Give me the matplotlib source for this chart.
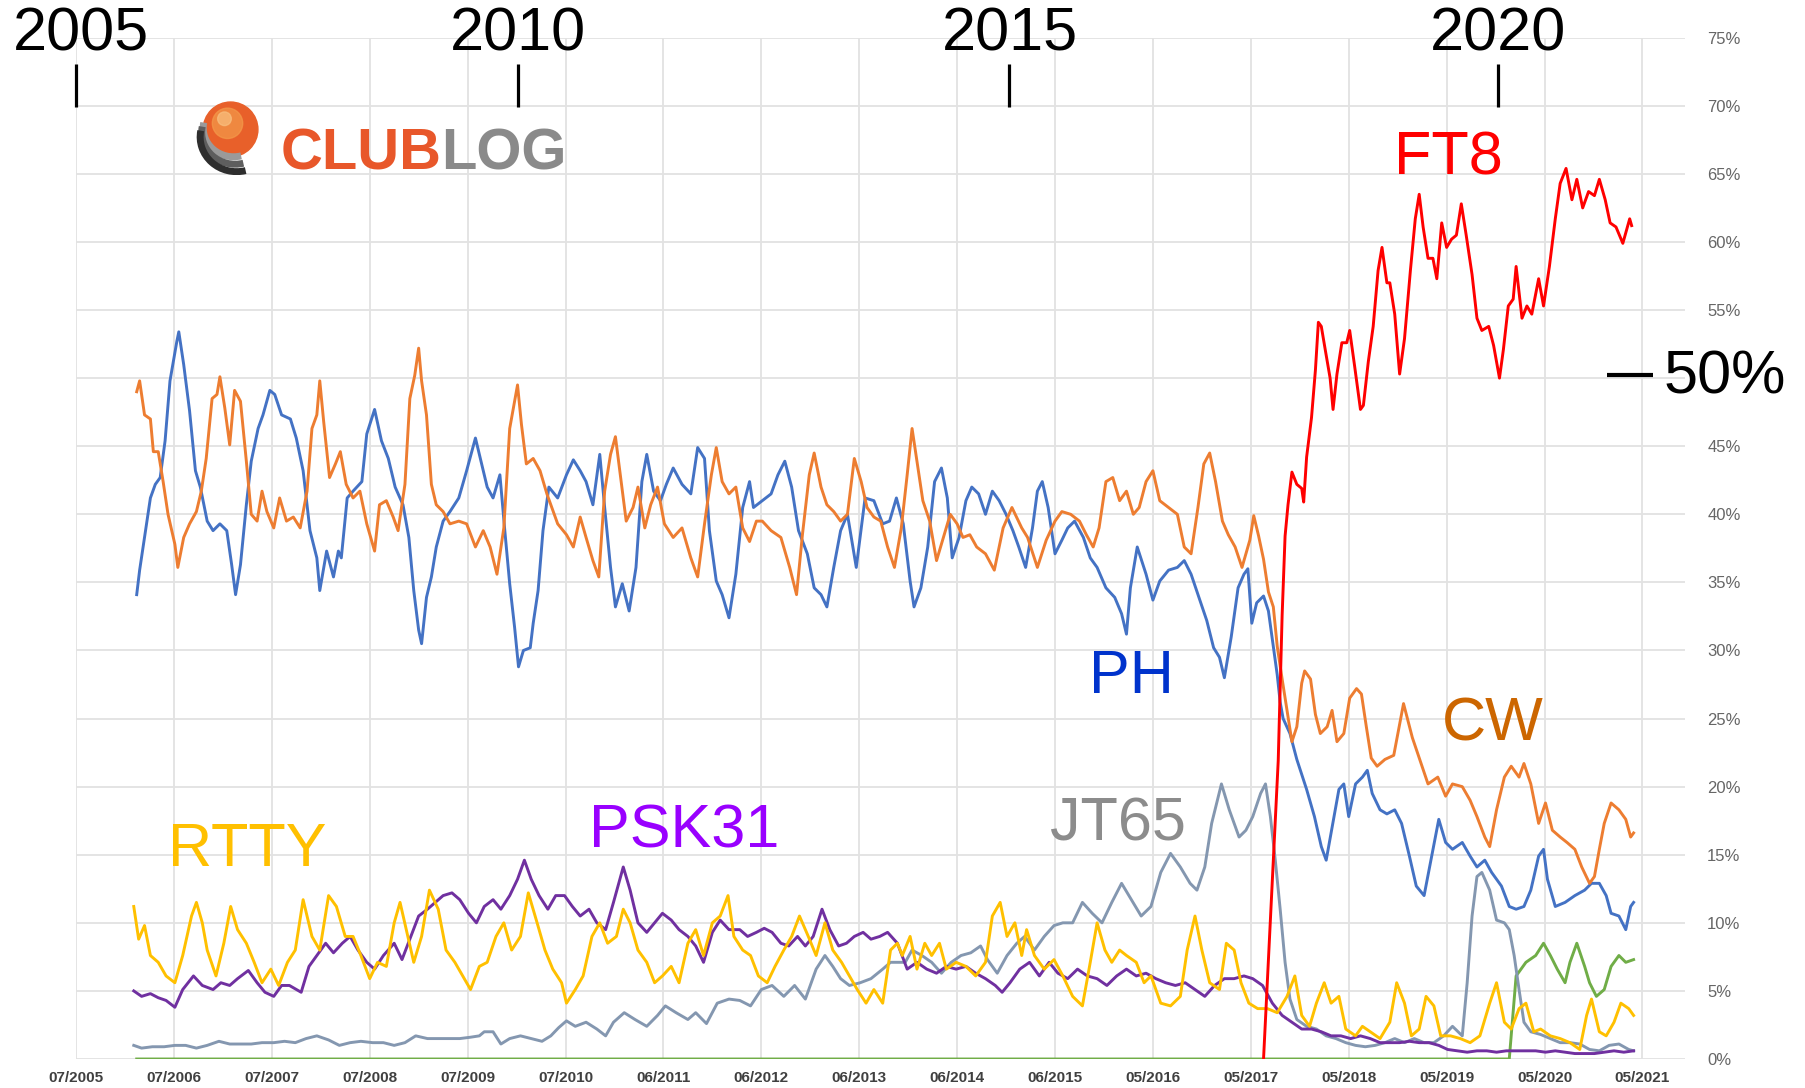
import numpy as np
import matplotlib
matplotlib.use("Agg")
import matplotlib.pyplot as plt
from matplotlib import font_manager as fm
from matplotlib.patches import Circle, Arc

# ---------------- data (x in 360-day periods since 07/2005, y in %) ----------------
x_labels = ["07/2005", "07/2006", "07/2007", "07/2008", "07/2009", "07/2010", "06/2011",
            "06/2012", "06/2013", "06/2014", "06/2015", "05/2016", "05/2017", "05/2018",
            "05/2019", "05/2020", "05/2021"]
y_ticks = [0, 5, 10, 15, 20, 25, 30, 35, 40, 45, 50, 55, 60, 65, 70, 75]

ph_t = [0.62,0.65,0.71,0.76,0.81,0.86,0.91,0.96,1.03,1.05,
        1.10,1.16,1.22,1.27,1.34,1.40,1.47,1.54,1.59,1.63,
        1.68,1.74,1.79,1.86,1.91,1.98,2.03,2.10,2.19,2.25,
        2.32,2.39,2.46,2.49,2.56,2.63,2.68,2.71,2.77,2.83,
        2.92,2.97,3.05,3.12,3.19,3.26,3.34,3.40,3.45,3.50,
        3.53,3.58,3.63,3.68,3.75,3.82,3.91,3.99,4.08,4.13,
        4.20,4.26,4.33,4.38,4.43,4.48,4.52,4.57,4.64,4.67,
        4.72,4.77,4.83,4.92,5.01,5.08,5.15,5.21,5.28,5.35,
        5.40,5.46,5.51,5.58,5.65,5.72,5.78,5.83,5.90,5.97,
        6.03,6.10,6.19,6.28,6.35,6.42,6.47,6.54,6.60,6.67,
        6.74,6.81,6.88,6.92,7.01,7.10,7.17,7.24,7.31,7.38,
        7.47,7.54,7.61,7.67,7.74,7.81,7.88,7.97,8.06,8.15,
        8.24,8.31,8.38,8.45,8.52,8.56,8.63,8.70,8.77,8.84,
        8.90,8.95,9.02,9.09,9.15,9.22,9.29,9.36,9.43,9.50,
        9.57,9.63,9.70,9.77,9.82,9.87,9.93,10.00,10.07,10.13,
        10.20,10.29,10.36,10.43,10.52,10.61,10.68,10.73,10.77,10.84,
        10.93,11.00,11.07,11.16,11.25,11.32,11.39,11.48,11.55,11.62,
        11.68,11.73,11.80,11.87,11.93,11.97,12.01,12.06,12.13,12.18,
        12.23,12.27,12.30,12.33,12.40,12.47,12.57,12.65,12.72,12.77,
        12.82,12.90,12.95,13.00,13.07,13.14,13.19,13.24,13.32,13.39,
        13.47,13.54,13.62,13.69,13.77,13.84,13.92,13.99,14.06,14.16,
        14.24,14.31,14.39,14.46,14.56,14.64,14.71,14.79,14.86,14.94,
        14.99,15.03,15.11,15.21,15.31,15.41,15.48,15.56,15.63,15.68,
        15.76,15.83,15.88,15.91]
ph_v = [34.1,35.9,38.8,41.2,42.2,42.7,45.4,49.8,52.7,53.4,
        51.0,47.6,43.2,42.0,39.5,38.8,39.3,38.8,36.3,34.1,
        36.3,40.7,43.9,46.3,47.3,49.1,48.8,47.3,47.0,45.6,
        43.2,38.8,36.8,34.4,37.3,35.4,37.3,36.8,41.2,41.7,
        42.4,45.9,47.7,45.4,44.1,42.0,40.7,38.3,34.4,31.5,
        30.5,33.9,35.4,37.6,39.5,40.2,41.2,43.2,45.6,44.1,
        42.0,41.2,42.9,38.8,34.9,31.7,28.8,30.0,30.2,32.0,
        34.4,38.8,42.0,41.2,42.9,44.0,43.2,42.4,40.7,44.4,
        40.5,36.1,33.2,34.9,32.9,36.1,42.4,44.4,41.7,41.0,
        42.2,43.4,42.2,41.5,44.9,44.1,38.8,35.1,34.1,32.4,
        35.6,40.5,42.4,40.5,41.0,41.5,42.9,43.9,42.0,38.8,
        37.1,34.6,34.1,33.2,36.1,38.8,40.0,36.1,41.2,41.0,
        39.3,39.5,41.2,39.3,35.1,33.2,34.6,37.6,42.4,43.4,
        41.2,36.8,38.3,41.0,42.0,41.5,40.0,41.7,41.0,40.0,
        38.8,37.6,36.1,39.0,41.7,42.4,40.5,37.1,38.1,39.0,
        39.5,38.3,36.8,36.1,34.6,33.9,32.7,31.2,34.6,37.6,
        35.6,33.7,35.1,35.9,36.1,36.6,35.6,33.7,32.2,30.2,
        29.5,28.0,31.0,34.6,35.6,36.0,32.0,33.5,34.0,32.9,
        30.3,28.2,26.2,25.0,23.9,22.0,19.8,17.8,15.6,14.6,
        16.6,19.8,20.2,17.8,20.2,20.7,21.2,19.5,18.3,18.0,
        18.3,17.3,14.9,12.7,12.0,14.6,17.6,15.9,15.4,15.9,
        14.9,14.1,14.6,13.7,12.7,11.2,11.0,11.2,12.4,14.9,
        15.4,13.2,11.2,11.5,12.0,12.4,12.9,12.9,12.0,10.7,
        10.5,9.5,11.2,11.5]

cw_t = [0.62,0.65,0.70,0.76,0.79,0.84,0.89,0.94,1.01,1.04,
        1.10,1.16,1.23,1.28,1.33,1.39,1.44,1.47,1.52,1.57,
        1.62,1.68,1.74,1.79,1.85,1.90,1.95,2.02,2.08,2.15,
        2.22,2.29,2.36,2.41,2.46,2.49,2.53,2.59,2.65,2.70,
        2.76,2.83,2.90,2.97,3.05,3.10,3.17,3.24,3.29,3.36,
        3.41,3.46,3.50,3.53,3.58,3.63,3.68,3.75,3.82,3.91,
        3.99,4.08,4.16,4.23,4.30,4.37,4.43,4.51,4.55,4.60,
        4.67,4.74,4.81,4.92,5.01,5.08,5.15,5.21,5.28,5.34,
        5.40,5.46,5.51,5.56,5.62,5.69,5.74,5.81,5.87,5.94,
        6.01,6.10,6.19,6.28,6.35,6.42,6.49,6.54,6.60,6.67,
        6.74,6.81,6.88,6.95,7.01,7.10,7.20,7.29,7.36,7.42,
        7.49,7.54,7.61,7.67,7.74,7.81,7.88,7.95,8.02,8.08,
        8.15,8.22,8.29,8.36,8.43,8.49,8.54,8.60,8.65,8.72,
        8.79,8.86,8.93,9.00,9.06,9.13,9.20,9.29,9.38,9.47,
        9.56,9.66,9.72,9.82,9.91,10.00,10.07,10.16,10.25,10.32,
        10.39,10.45,10.52,10.59,10.66,10.73,10.80,10.86,10.93,11.00,
        11.07,11.16,11.25,11.32,11.39,11.46,11.52,11.58,11.64,11.71,
        11.77,11.84,11.91,11.99,12.03,12.08,12.13,12.18,12.23,12.27,
        12.32,12.37,12.42,12.47,12.52,12.55,12.61,12.66,12.71,12.78,
        12.83,12.88,12.95,13.01,13.08,13.13,13.18,13.23,13.29,13.37,
        13.46,13.56,13.65,13.74,13.81,13.91,13.99,14.06,14.16,14.24,
        14.31,14.39,14.44,14.51,14.59,14.66,14.74,14.79,14.86,14.94,
        15.01,15.08,15.16,15.23,15.31,15.38,15.46,15.51,15.56,15.61,
        15.68,15.76,15.83,15.88,15.91]
cw_v = [49.0,49.8,47.3,47.0,44.6,44.6,42.4,40.0,37.8,36.1,
        38.3,39.3,40.2,41.7,44.1,48.5,48.8,50.1,47.8,45.1,
        49.1,48.3,43.9,40.0,39.5,41.7,40.2,39.0,41.2,39.5,
        39.8,39.0,41.7,46.3,47.3,49.8,46.8,42.7,43.7,44.6,
        42.2,41.2,41.7,39.3,37.3,40.7,41.0,39.8,38.8,42.2,
        48.5,50.2,52.2,49.8,47.3,42.2,40.7,40.2,39.3,39.5,
        39.3,37.6,38.8,37.6,35.6,39.0,46.3,49.5,46.6,43.7,
        44.1,43.2,41.5,39.3,38.5,37.6,39.8,38.3,36.6,35.4,
        41.7,44.4,45.7,42.9,39.5,40.5,42.0,39.0,40.7,42.0,
        39.3,38.3,39.0,36.8,35.4,39.3,42.9,44.9,42.4,41.5,
        42.0,39.0,38.0,39.5,39.5,38.8,38.3,36.1,34.1,38.5,
        42.9,44.5,42.0,40.7,40.2,39.5,40.0,44.1,42.4,40.5,
        39.8,39.5,37.6,36.1,39.0,42.9,46.3,43.4,41.0,39.5,
        36.6,38.3,40.0,39.3,38.3,38.5,37.6,37.1,35.9,39.0,
        40.5,39.0,38.3,36.1,38.1,39.5,40.2,40.0,39.5,38.5,
        37.6,39.0,42.4,42.7,41.0,41.7,40.0,40.5,42.4,43.2,
        41.0,40.5,40.0,37.6,37.1,40.5,43.7,44.5,42.4,39.5,
        38.5,37.6,36.1,38.1,39.9,38.4,36.7,34.3,33.2,30.3,
        27.9,25.6,23.3,24.4,27.6,28.5,27.9,25.3,23.9,24.4,
        25.6,23.3,23.9,26.5,27.2,26.8,24.4,22.1,21.5,22.0,
        22.3,26.1,23.6,21.7,20.2,20.7,19.3,20.2,20.0,19.0,
        17.8,16.3,15.6,18.3,20.7,21.5,20.7,21.7,20.2,17.3,
        18.8,16.8,16.3,15.9,15.4,14.1,12.9,13.4,15.4,17.3,
        18.8,18.3,17.6,16.3,16.6]

ft8_t = [12.13,12.28,12.32,12.35,12.38,12.42,12.47,12.52,12.54,12.57,
         12.62,12.66,12.69,12.72,12.76,12.81,12.84,12.88,12.93,12.98,
         13.01,13.06,13.12,13.15,13.20,13.25,13.30,13.34,13.39,13.42,
         13.47,13.52,13.57,13.63,13.68,13.72,13.76,13.81,13.86,13.90,
         13.95,14.00,14.05,14.10,14.15,14.20,14.26,14.31,14.36,14.43,
         14.48,14.54,14.58,14.63,14.68,14.71,14.77,14.82,14.87,14.94,
         14.99,15.05,15.11,15.16,15.22,15.28,15.33,15.39,15.45,15.51,
         15.56,15.62,15.67,15.73,15.80,15.87,15.89]
ft8_v = [0.0,21.9,32.6,38.4,40.7,43.1,42.2,41.9,40.9,44.2,
         47.1,50.6,54.1,53.8,52.1,50.0,47.7,50.3,52.6,52.6,
         53.5,50.9,47.7,48.0,51.2,53.8,57.9,59.6,57.0,57.0,
         54.7,50.3,52.9,57.9,61.7,63.5,61.1,58.8,58.8,57.3,
         61.4,59.6,60.2,60.5,62.8,60.5,57.6,54.4,53.5,53.8,
         52.4,50.0,52.1,55.3,55.8,58.2,54.4,55.3,54.7,57.3,
         55.3,58.2,61.7,64.3,65.4,63.1,64.6,62.5,63.7,63.4,
         64.6,63.1,61.4,61.1,59.9,61.7,61.2]

jt65_t = [0.59,0.67,0.78,0.90,1.01,1.12,1.23,1.34,1.46,1.57,
          1.68,1.79,1.90,2.02,2.13,2.24,2.35,2.46,2.58,2.69,
          2.80,2.91,3.03,3.14,3.25,3.36,3.47,3.59,3.70,3.81,
          3.92,4.03,4.12,4.17,4.26,4.34,4.43,4.54,4.65,4.76,
          4.85,4.93,5.01,5.10,5.21,5.32,5.41,5.49,5.60,5.71,
          5.83,5.94,6.02,6.13,6.25,6.33,6.44,6.55,6.67,6.78,
          6.89,7.00,7.11,7.23,7.34,7.45,7.56,7.65,7.73,7.81,
          7.90,8.01,8.12,8.24,8.32,8.47,8.54,8.64,8.74,8.84,
          8.94,9.04,9.14,9.24,9.31,9.41,9.51,9.61,9.69,9.79,
          9.89,9.99,10.08,10.18,10.28,10.38,10.48,10.58,10.68,10.78,
          10.88,10.98,11.08,11.18,11.28,11.38,11.45,11.53,11.60,11.70,
          11.78,11.88,11.95,12.02,12.10,12.15,12.20,12.25,12.30,12.35,
          12.40,12.47,12.57,12.67,12.77,12.87,12.97,13.07,13.17,13.27,
          13.37,13.47,13.57,13.67,13.77,13.87,13.97,14.06,14.16,14.21,
          14.26,14.31,14.36,14.44,14.51,14.59,14.64,14.69,14.74,14.79,
          14.86,14.96,15.06,15.16,15.26,15.36,15.46,15.56,15.66,15.76,
          15.86,15.91]
jt65_v = [1.0,0.8,0.9,0.9,1.0,1.0,0.8,1.0,1.3,1.1,
          1.1,1.1,1.2,1.2,1.3,1.2,1.5,1.7,1.4,1.0,
          1.2,1.3,1.2,1.2,1.0,1.2,1.7,1.5,1.5,1.5,
          1.5,1.6,1.7,2.0,2.0,1.1,1.5,1.7,1.5,1.3,
          1.7,2.3,2.8,2.4,2.7,2.2,1.7,2.7,3.4,2.9,
          2.4,3.2,3.9,3.4,2.9,3.4,2.6,4.1,4.4,4.3,
          3.9,5.1,5.4,4.6,5.4,4.4,6.6,7.6,6.8,5.9,
          5.4,5.6,5.9,6.6,7.1,7.1,8.0,7.6,7.1,6.3,
          7.1,7.6,7.8,8.3,7.3,6.3,7.6,8.5,9.0,8.0,
          9.0,9.8,10.0,10.0,11.5,10.7,10.0,11.5,12.9,11.7,
          10.5,11.2,13.7,15.1,14.1,12.9,12.4,14.1,17.3,20.2,
          18.3,16.3,16.8,17.8,19.5,20.2,17.8,14.6,11.0,7.1,
          4.4,2.9,2.4,2.2,1.7,1.5,1.2,1.0,0.9,1.0,
          1.2,1.5,1.2,1.5,1.2,1.2,1.7,2.4,1.7,5.6,
          10.5,13.4,13.7,12.4,10.2,10.0,9.5,7.6,5.1,2.7,
          2.0,1.8,1.5,1.2,1.2,1.1,0.7,0.6,1.0,1.1,
          0.7,0.6]

psk_t = [0.59,0.67,0.76,0.84,0.92,1.01,1.09,1.20,1.29,1.40,
         1.48,1.57,1.65,1.76,1.85,1.93,2.02,2.10,2.18,2.30,
         2.38,2.46,2.55,2.63,2.72,2.80,2.88,2.97,3.05,3.14,
         3.25,3.33,3.42,3.50,3.59,3.67,3.75,3.84,3.92,4.01,
         4.09,4.17,4.26,4.34,4.43,4.51,4.58,4.65,4.73,4.82,
         4.90,4.99,5.07,5.15,5.24,5.32,5.41,5.49,5.59,5.66,
         5.74,5.83,5.91,5.99,6.08,6.16,6.25,6.33,6.41,6.50,
         6.58,6.67,6.78,6.86,6.95,7.03,7.11,7.20,7.28,7.37,
         7.45,7.53,7.62,7.70,7.79,7.87,7.95,8.04,8.12,8.21,
         8.29,8.39,8.49,8.59,8.69,8.79,8.89,8.99,9.09,9.19,
         9.29,9.39,9.46,9.54,9.64,9.74,9.84,9.94,10.03,10.13,
         10.23,10.33,10.43,10.53,10.63,10.73,10.83,10.93,11.03,11.13,
         11.23,11.33,11.43,11.53,11.63,11.73,11.83,11.93,12.02,12.12,
         12.22,12.32,12.42,12.52,12.62,12.72,12.82,12.92,13.02,13.12,
         13.22,13.32,13.42,13.52,13.62,13.72,13.82,13.92,14.01,14.11,
         14.21,14.31,14.41,14.51,14.61,14.71,14.81,14.91,15.01,15.11,
         15.21,15.31,15.41,15.51,15.61,15.71,15.81,15.91]
psk_v = [5.0,4.6,4.8,4.5,4.3,3.8,5.1,6.1,5.4,5.1,
         5.6,5.4,5.9,6.5,5.6,4.9,4.6,5.4,5.4,4.9,
         6.8,7.6,8.5,7.8,8.5,9.0,8.0,7.1,6.6,7.6,
         8.5,7.3,9.0,10.5,11.0,11.5,12.0,12.2,11.7,10.7,
         10.0,11.2,11.7,11.0,12.0,13.2,14.6,13.2,12.0,11.0,
         12.0,12.0,11.2,10.5,11.0,10.0,9.5,11.5,14.1,12.4,
         10.0,9.3,10.0,10.7,10.2,9.5,9.0,8.3,7.1,9.3,
         10.2,9.5,9.5,9.0,9.3,9.6,9.3,8.5,8.3,9.0,
         8.3,9.0,11.0,9.5,8.3,8.5,9.0,9.3,8.8,9.0,
         9.3,8.5,6.6,7.1,6.6,6.3,6.8,6.6,6.8,6.3,
         5.9,5.4,4.9,5.6,6.6,7.1,6.1,7.1,6.3,5.9,
         6.6,6.1,5.9,5.4,6.1,6.6,6.1,6.3,5.9,5.6,
         5.4,5.6,5.1,4.6,5.4,5.9,5.9,6.1,5.9,5.4,
         4.1,3.2,2.7,2.2,2.2,2.0,1.7,1.7,1.5,1.7,
         1.5,1.2,1.2,1.2,1.3,1.2,1.2,1.0,0.7,0.6,
         0.5,0.6,0.6,0.5,0.6,0.6,0.6,0.6,0.5,0.6,
         0.5,0.4,0.4,0.4,0.5,0.6,0.5,0.6]

rtty_t = [0.59,0.64,0.70,0.76,0.84,0.92,1.01,1.09,1.18,1.23,
          1.29,1.34,1.43,1.51,1.58,1.65,1.74,1.82,1.90,1.99,
          2.07,2.16,2.24,2.32,2.41,2.49,2.58,2.66,2.75,2.83,
          2.91,3.00,3.08,3.17,3.25,3.31,3.39,3.45,3.53,3.61,
          3.70,3.78,3.87,3.95,4.03,4.12,4.20,4.29,4.37,4.45,
          4.54,4.62,4.71,4.79,4.87,4.96,5.01,5.10,5.18,5.27,
          5.35,5.43,5.52,5.59,5.66,5.74,5.83,5.91,5.99,6.08,
          6.16,6.25,6.33,6.41,6.50,6.58,6.66,6.72,6.81,6.89,
          6.97,7.06,7.14,7.23,7.31,7.39,7.48,7.56,7.65,7.73,
          7.82,7.90,7.98,8.07,8.15,8.24,8.32,8.39,8.44,8.52,
          8.59,8.67,8.74,8.82,8.89,8.99,9.09,9.19,9.29,9.36,
          9.44,9.51,9.59,9.66,9.71,9.79,9.89,9.99,10.08,10.18,
          10.28,10.36,10.43,10.51,10.58,10.66,10.73,10.83,10.91,10.98,
          11.08,11.18,11.28,11.35,11.43,11.50,11.58,11.68,11.75,11.83,
          11.90,11.98,12.07,12.17,12.27,12.37,12.45,12.52,12.60,12.67,
          12.75,12.82,12.90,12.97,13.07,13.14,13.22,13.32,13.42,13.49,
          13.57,13.64,13.72,13.79,13.87,13.94,14.04,14.14,14.24,14.34,
          14.44,14.51,14.59,14.66,14.74,14.81,14.89,14.96,15.06,15.16,
          15.26,15.36,15.43,15.48,15.56,15.63,15.71,15.78,15.86,15.91]
rtty_v = [11.2,8.8,9.8,7.6,7.1,6.1,5.6,7.6,10.5,11.5,
          10.0,8.0,6.1,8.5,11.2,9.5,8.5,7.1,5.6,6.6,
          5.4,7.1,8.0,11.7,9.0,8.0,12.0,11.2,9.0,9.0,
          7.6,5.9,7.1,6.8,10.0,11.5,9.0,7.1,9.0,12.4,
          11.0,8.0,7.1,6.1,5.1,6.8,7.1,9.0,10.0,8.0,
          9.0,12.2,10.0,8.0,6.6,5.6,4.1,5.1,6.1,9.0,
          10.0,8.5,9.0,11.0,10.0,8.0,7.1,5.6,6.1,6.8,
          5.6,8.5,9.5,7.6,10.0,10.5,12.0,9.0,8.0,7.6,
          6.1,5.6,6.8,8.0,9.0,10.5,9.0,7.6,10.0,8.0,
          7.1,6.1,5.1,4.1,5.1,4.1,8.0,8.5,7.6,9.0,
          6.6,8.5,7.6,8.5,6.6,7.1,6.8,6.1,7.1,10.5,
          11.5,9.0,10.0,7.6,9.5,7.6,6.6,7.3,6.1,4.6,
          3.9,7.1,10.0,8.0,7.1,8.0,7.6,7.1,5.6,6.1,
          4.1,3.9,4.6,8.0,10.5,8.0,5.6,5.1,8.5,8.0,
          5.6,4.1,3.7,3.7,3.4,4.6,6.1,3.2,2.4,4.1,
          5.6,4.1,4.6,2.2,1.7,2.4,2.0,1.5,2.7,5.6,
          4.1,1.7,2.2,4.6,3.9,1.7,1.7,1.5,1.2,1.7,
          4.1,5.6,2.7,2.2,3.7,4.1,2.0,2.2,1.7,1.5,
          1.2,0.7,3.2,4.4,2.0,1.7,2.7,4.1,3.7,3.2]

ft4_t = [0.62,14.64,14.71,14.81,14.91,14.99,15.06,15.13,15.21,15.26,
         15.33,15.41,15.46,15.53,15.61,15.68,15.76,15.83,15.91]
ft4_v = [0.0,0.0,6.1,7.1,7.6,8.5,7.6,6.6,5.6,7.1,
         8.5,6.8,5.6,4.6,5.1,6.8,7.6,7.1,7.3]

year_marks = ["2005", "2010", "2015", "2020"]
mode_labels = ["FT8", "PH", "CW", "JT65", "PSK31", "RTTY"]

# ---------------- styling / layout ----------------
W, H = 1806, 1088
fig = plt.figure(figsize=(W / 100, H / 100), dpi=100)
fig.patch.set_facecolor("white")
ax = fig.add_axes([76 / W, (H - 1059) / H, (1685 - 76) / W, (1059 - 37.7) / H])
ax.set_xlim(0, 16.435)
ax.set_ylim(0, 75)
for s in ax.spines.values():
    s.set_visible(False)
ax.set_xticks(range(len(x_labels)))
ax.set_xticklabels(x_labels, fontsize=11, fontweight="bold", color="#404040",
                   family=["Liberation Sans Narrow", "Liberation Sans", "DejaVu Sans"])
ax.set_yticks(y_ticks)
# the 50% tick label is covered by the large "50%" annotation in the original
ax.set_yticklabels(["" if v == 50 else f"{v}%" for v in y_ticks], fontsize=12,
                   color="#666666", family=["Liberation Sans", "DejaVu Sans"])
ax.yaxis.tick_right()
ax.tick_params(axis="y", length=0, pad=16)
ax.tick_params(axis="x", length=0, pad=9)
ax.grid(True, color="#E2E2E2", lw=1.3)
ax.set_axisbelow(True)

LW = 2.1
ax.plot(ft4_t, ft4_v, color="#70AD47", lw=LW)
ax.plot(jt65_t, jt65_v, color="#8497B0", lw=LW)
ax.plot(psk_t, psk_v, color="#7030A0", lw=LW)
ax.plot(rtty_t, rtty_v, color="#FFC000", lw=LW)
ax.plot(ph_t, ph_v, color="#4472C4", lw=LW)
ax.plot(cw_t, cw_v, color="#ED7D31", lw=LW)
ax.plot(ft8_t, ft8_v, color="#FF0000", lw=LW)

BIG = dict(fontsize=44, family=["Liberation Sans", "DejaVu Sans"], clip_on=False,
           ha="center", va="center")
# year annotations with tick marks
year_pos = [0.05, 4.51, 9.54, 14.53]
mark_pos = [0.0, 4.51, 9.53, 14.52]
for lab, xp, mp in zip(year_marks, year_pos, mark_pos):
    ax.text(xp, 75.2, lab, color="black", **BIG)
    ax.plot([mp, mp], [69.9, 73.1], color="black", lw=2.3, clip_on=False,
            solid_capstyle="butt")

# 50% marker
ax.plot([15.64, 16.11], [50.2, 50.2], color="black", lw=3.0, clip_on=False,
        solid_capstyle="butt")
ax.text(16.22, 50.0, "50%", color="black", **{**BIG, "ha": "left"})

label_pos = [(14.02, 66.1), (10.78, 28.0), (14.47, 24.5), (10.64, 17.2), (6.21, 16.7), (1.75, 15.3)]
label_col = ["#FF0000", "#0033CC", "#CC6600", "#8C8C8C", "#9900FF", "#FFC000"]
for lab, (xp, yp), c in zip(mode_labels, label_pos, label_col):
    ax.text(xp, yp, lab, color=c, **BIG)

# ---------------- CLUBLOG logo ----------------
avail = {f.name for f in fm.fontManager.ttflist}
logo_family = "Liberation Sans Narrow" if "Liberation Sans Narrow" in avail else "Liberation Sans"
t_club = ax.text(3.73, 65.3, "CLUB", color="#E8572A", fontsize=40, fontweight="bold",
                 family=logo_family, ha="right", va="baseline")
t_log = ax.text(3.73, 65.3, "LOG", color="#8A8A8A", fontsize=40, fontweight="bold",
                family=logo_family, ha="left", va="baseline")
fig.canvas.draw()
r = fig.canvas.get_renderer()
wpx = t_club.get_window_extent(r).width
fs = 40 * 161.0 / wpx
t_club.set_fontsize(fs)
t_log.set_fontsize(fs)

lax = fig.add_axes([188 / W, (H - 175) / H, 76 / W, 76 / H])
lax.set_xlim(0, 1)
lax.set_ylim(0, 1)
lax.set_aspect("equal")
lax.axis("off")
lax.add_patch(Circle((0.56, 0.60), 0.36, color="#E8602A"))
lax.add_patch(Circle((0.52, 0.68), 0.20, color="#F39A4A", alpha=0.7))
lax.add_patch(Circle((0.48, 0.74), 0.09, color="#F8C080", alpha=0.7))
for k, (col, rad) in enumerate([("#9A9A9A", 0.40), ("#5E5E5E", 0.44), ("#2E2E2E", 0.48)]):
    lax.add_patch(Arc((0.60 + 0.02 * k, 0.62 - 0.06 * k), 2 * rad, 2 * rad * 0.95,
                      theta1=170, theta2=285, lw=5, color=col))

fig.savefig("out.png", dpi=100, facecolor="white")
